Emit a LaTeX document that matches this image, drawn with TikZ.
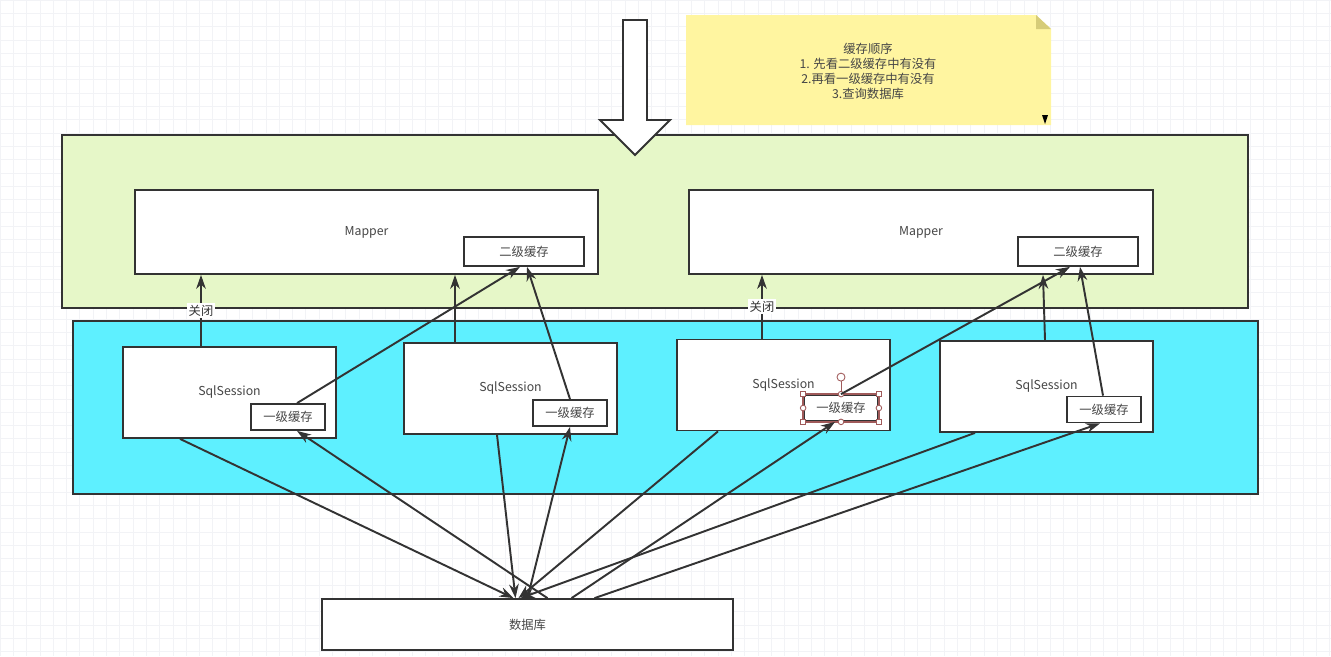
\documentclass[tikz,border=0pt]{standalone}
\usepackage{fontspec}
\setmainfont{Noto Sans CJK SC}
\usetikzlibrary{arrows.meta,calc}

\definecolor{vert}{RGB}{230,247,200}
\definecolor{bleu}{RGB}{94,240,255}
\definecolor{jaune}{RGB}{255,245,160}
\definecolor{pli}{RGB}{214,204,120}
\definecolor{trait}{RGB}{51,51,51}
\definecolor{texte}{RGB}{70,70,70}
\definecolor{poignee}{RGB}{160,90,90}
\definecolor{grille}{RGB}{242,243,246}

\tikzset{
  boite/.style={draw=trait,line width=1pt,fill=white,inner sep=0pt},
  taille/.style 2 args={minimum width=#1*0.02cm,minimum height=#2*0.02cm}
}

\begin{document}
\begin{tikzpicture}[x=0.02cm,y=-0.02cm,font=\fontsize{7}{8.5}\selectfont,text=texte]
    \useasboundingbox (0,0) rectangle (1331,656);
    \draw[grille,line width=0.4pt,step=0.266cm] (0,0) grid (1331,656);
    % la note
    \fill[jaune] (686,15) -- (1036,15) -- (1051,29) -- (1051,125) -- (686,125) -- cycle;
    \fill[pli] (1036,15) -- (1036,29) -- (1051,29) -- cycle;
    \fill[black] (1042,115) -- (1048,115) -- (1045,124) -- cycle;
    \node[align=center] (note) at (868,71) {缓存顺序\\1. 先看二级缓存中有没有\\2.再看一级缓存中有没有\\3.查询数据库};
    % les deux zones
    \node[boite,fill=vert,taille={1186}{173}] (mappers) at (655,221.5) {};
    \node[boite,fill=bleu,taille={1185}{173}] (sessions) at (665.5,407.5) {};
    % les Mapper
    \node[boite,taille={463}{84}] (map1) at (366.5,232) {Mapper};
    \node[boite,taille={464}{84}] (map2) at (921,232) {Mapper};
    \node[boite,taille={120}{29}] (cacheA) at (524,251.5) {二级缓存};
    \node[boite,taille={120}{29}] (cacheB) at (1078,251.5) {二级缓存};
    % les SqlSession
    \foreach \n/\x/\y/\cx/\cy in {1/229.5/392.5/288/417,2/510.5/388.5/570/413,
                                  3/783.5/385/841/408,4/1046.5/386.5/1104/409.5}{
      \node[boite,taille={213}{91}] (s\n) at (\x,\y) {SqlSession};
      \node[boite,taille={74}{26}] (c\n) at (\cx,\cy) {一级缓存};
    }
    \node[boite,taille={411}{51}] (db) at (527.5,624.5) {数据库};
    % la grosse fleche
    \draw[trait,fill=white,line width=1.1pt] (623,20) -- (647,20) -- (647,120) -- (670,120)
      -- (635,155) -- (600,120) -- (623,120) -- cycle;
    % poignées de sélection
    \begin{scope}[poignee,line width=0.5pt]
      \draw[line width=0.9pt] (c3.south west) rectangle (c3.north east);
      \draw (c3.north) -- ++(0,-13);
      \draw[fill=white] ($(c3.north)+(0,-17)$) circle[radius=4];
      \foreach \a in {north west,north east,south west,south east}
        \draw[fill=white] ($(c3.\a)+(-2.5,-2.5)$) rectangle ++(5,5);
      \foreach \a in {north,south,east,west}
        \draw[fill=white] (c3.\a) circle[radius=2.8];
    \end{scope}
    % les liaisons
    \begin{scope}[fl/.style={-{Stealth[length=8pt,width=5.5pt]},trait,line width=1.1pt},
                  lab/.style={fill=white,inner sep=1pt}]
      \draw[fl] ($(s1.north)+(-28.5,0)$) -- node[lab] (ferme1) {关闭} ($(map1.south)+(-165.5,0)$);
      \draw[fl] ($(c1.north)+(9,0)$) -- ($(cacheA.south)+(-4,0)$);
      \draw[fl] ($(s2.north)+(-55.5,0)$) -- ($(map1.south)+(88.5,0)$);
      \draw[fl] (c2.north) -- ($(cacheA.south)+(3,0)$);
      \draw[fl] ($(s3.north)+(-21.5,0)$) -- node[lab] (ferme2) {关闭} ($(map2.south)+(-159,0)$);
      \draw[fl] (c3.north) -- ($(cacheB.south)+(-8,0)$);
      \draw[fl] ($(s4.north)+(-1.5,0)$) -- ($(map2.south)+(122,0)$);
      \draw[fl] ($(c4.north)+(-1,0)$) -- ($(cacheB.south)+(2,0)$);
      % vers la base
      \draw[fl] ($(s1.south)+(-49.5,0)$) -- ($(db.north)+(-14,0)$);
      \draw[fl] ($(db.north)+(20,0)$) -- ($(c1.south)+(9,0)$);
      \draw[fl] ($(s2.south)+(-13.5,0)$) -- ($(db.north)+(-12,0)$);
      \draw[fl] ($(db.north)+(0,0)$) -- (c2.south);
      \draw[fl] ($(s3.south)+(-65.5,0)$) -- ($(db.north)+(-9,0)$);
      \draw[fl] ($(db.north)+(44,0)$) -- ($(c3.south)+(-6,0)$);
      \draw[fl] ($(s4.south)+(-71.5,0)$) -- ($(db.north)+(-7,0)$);
      \draw[fl] ($(db.north)+(67,0)$) -- ($(c4.south)+(-4,0)$);
    \end{scope}
\end{tikzpicture}
\end{document}
